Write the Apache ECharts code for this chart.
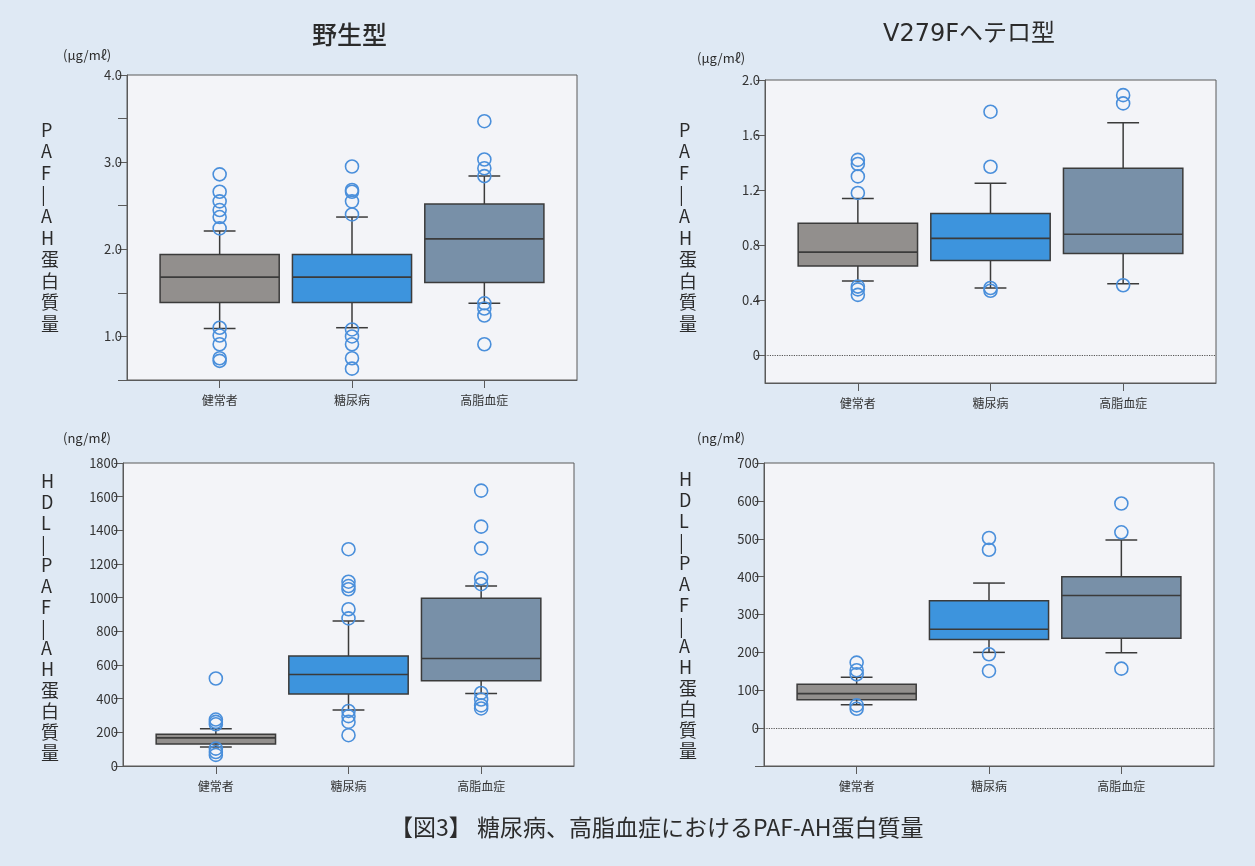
<!DOCTYPE html>
<html lang="ja">
<head>
<meta charset="utf-8">
<title>糖尿病、高脂血症におけるPAF-AH蛋白質量</title>
<script src="https://cdn.jsdelivr.net/npm/echarts@6/dist/echarts.min.js"></script>
<style>
  html, body { margin: 0; padding: 0; background: #dfe9f4; }
  #chart { width: 1255px; height: 866px; }
</style>
</head>
<body>
<div id="chart"></div>
<script>
// Groups on every x axis
const categories = ['健常者', '糖尿病', '高脂血症'];

// Box statistics per group: [lower whisker, Q1, median, Q3, upper whisker]
// 野生型 — PAF-AH 蛋白質量 (μg/mℓ)
const wildProteinBoxes = [
  [1.09, 1.39, 1.68, 1.94, 2.21],
  [1.10, 1.39, 1.68, 1.94, 2.37],
  [1.38, 1.62, 2.12, 2.52, 2.84]
];
const wildProteinOutliers = [
  [2.86, 2.66, 2.55, 2.45, 2.37, 2.24, 1.10, 1.01, 0.91, 0.75, 0.72],
  [2.95, 2.68, 2.66, 2.55, 2.40, 1.08, 1.00, 0.91, 0.75, 0.63],
  [3.47, 3.03, 2.93, 2.84, 1.38, 1.32, 1.24, 0.91]
];

// V279F ヘテロ型 — PAF-AH 蛋白質量 (μg/mℓ)
const heteroProteinBoxes = [
  [0.54, 0.65, 0.75, 0.96, 1.14],
  [0.49, 0.69, 0.85, 1.03, 1.25],
  [0.52, 0.74, 0.88, 1.36, 1.69]
];
const heteroProteinOutliers = [
  [1.42, 1.39, 1.30, 1.18, 0.50, 0.48, 0.44],
  [1.77, 1.37, 0.49, 0.47],
  [1.89, 1.83, 0.51]
];

// 野生型 — HDL-PAF-AH 蛋白質量 (ng/mℓ)
const wildHdlBoxes = [
  [113, 130, 167, 188, 222],
  [333, 427, 544, 654, 861],
  [431, 506, 639, 996, 1069]
];
const wildHdlOutliers = [
  [520, 276, 262, 248, 103, 83, 66],
  [1288, 1095, 1069, 1050, 931, 877, 327, 296, 262, 183],
  [1636, 1422, 1293, 1115, 1080, 434, 395, 360, 342]
];

// V279F ヘテロ型 — HDL-PAF-AH 蛋白質量 (ng/mℓ)
const heteroHdlBoxes = [
  [62, 75, 91, 116, 134],
  [200, 234, 261, 336, 383],
  [199, 237, 350, 400, 497]
];
const heteroHdlOutliers = [
  [173, 153, 142, 60, 51],
  [502, 471, 195, 151],
  [593, 517, 157]
];

// Axis ticks and labels
const wildProteinTicks = [0.5, 1.0, 1.5, 2.0, 2.5, 3.0, 3.5, 4.0];
const wildProteinLabels = [1.0, 2.0, 3.0, 4.0];
const heteroProteinTicks = [0, 0.4, 0.8, 1.2, 1.6, 2.0];
const heteroHdlLabels = [0, 100, 200, 300, 400, 500, 600, 700];

const BOX_FILLS = ['#928f8d', '#3d94dd', '#7890a8'];
const EDGE = '#3b3b3b';
const FRAME = '#5a5a5a';
const OUTLIER = '#4a8fdb';
const BOX_WIDTH = 0.9;
const CAP_WIDTH = 0.24;
const FONT = '"Noto Sans CJK JP", "Noto Sans", sans-serif';
const WIDE_FONT = '"DejaVu Sans", "Noto Sans CJK JP", sans-serif';

function renderBox(params, api) {
  const x = api.value(0);
  const pLo = api.coord([x, api.value(1)]);
  const pQ1 = api.coord([x, api.value(2)]);
  const pMed = api.coord([x, api.value(3)]);
  const pQ3 = api.coord([x, api.value(4)]);
  const pHi = api.coord([x, api.value(5)]);
  const half = api.size([BOX_WIDTH, 0])[0] / 2;
  const cap = api.size([CAP_WIDTH, 0])[0] / 2;
  const cx = pMed[0];
  const line = (x1, y1, x2, y2, w) => ({
    type: 'line',
    shape: { x1, y1, x2, y2 },
    style: { stroke: EDGE, lineWidth: w || 1.5 }
  });
  return {
    type: 'group',
    children: [
      line(cx, pQ3[1], cx, pHi[1]),
      line(cx - cap, pHi[1], cx + cap, pHi[1]),
      line(cx, pQ1[1], cx, pLo[1]),
      line(cx - cap, pLo[1], cx + cap, pLo[1]),
      {
        type: 'rect',
        shape: { x: cx - half, y: pQ3[1], width: half * 2, height: pQ1[1] - pQ3[1] },
        style: { fill: BOX_FILLS[params.dataIndex], stroke: EDGE, lineWidth: 1.5 }
      },
      line(cx - half, pMed[1], cx + half, pMed[1], 1.6)
    ]
  };
}

const grids = [
  { left: 127, top: 75, width: 450, height: 305 },
  { left: 765, top: 80, width: 451, height: 303 },
  { left: 123, top: 463, width: 451, height: 303 },
  { left: 764, top: 463, width: 450, height: 303 }
].map(g => Object.assign({
  show: true, backgroundColor: '#f3f4f8', borderColor: FRAME, borderWidth: 1
}, g));

const xAxes = grids.map((g, i) => ({
  type: 'value', gridIndex: i, min: 0.3, max: 3.7,
  splitLine: { show: false },
  axisLine: { onZero: false, lineStyle: { color: FRAME } },
  axisTick: { customValues: [1, 2, 3], length: 8, lineStyle: { color: FRAME } },
  axisLabel: {
    customValues: [1, 2, 3], margin: 14, color: '#333', fontSize: 12, fontFamily: FONT,
    formatter: v => categories[Math.round(v) - 1]
  }
}));

const yBase = {
  type: 'value',
  splitLine: { show: false },
  axisLine: { show: true, onZero: false, lineStyle: { color: FRAME } },
  axisTick: { length: 9, lineStyle: { color: FRAME } }
};
const labelStyle = { color: '#333', fontSize: 13, fontFamily: FONT, margin: 5 };

const yAxes = [
  Object.assign({}, yBase, {
    gridIndex: 0, min: 0.5, max: 4.0,
    axisTick: Object.assign({}, yBase.axisTick, { customValues: wildProteinTicks }),
    axisLabel: Object.assign({}, labelStyle, { customValues: wildProteinLabels, formatter: v => v.toFixed(1) })
  }),
  Object.assign({}, yBase, {
    gridIndex: 1, min: -0.2, max: 2.0,
    axisTick: Object.assign({}, yBase.axisTick, { customValues: heteroProteinTicks }),
    axisLabel: Object.assign({}, labelStyle, {
      customValues: heteroProteinTicks, formatter: v => (v === 0 ? '0' : v.toFixed(1))
    })
  }),
  Object.assign({}, yBase, {
    gridIndex: 2, min: 0, max: 1800, interval: 200,
    axisLabel: Object.assign({}, labelStyle, { formatter: v => String(v) })
  }),
  Object.assign({}, yBase, {
    gridIndex: 3, min: -100, max: 700, interval: 100,
    axisLabel: Object.assign({}, labelStyle, { customValues: heteroHdlLabels, formatter: v => String(v) })
  })
];

const panels = [
  [wildProteinBoxes, wildProteinOutliers, false],
  [heteroProteinBoxes, heteroProteinOutliers, true],
  [wildHdlBoxes, wildHdlOutliers, false],
  [heteroHdlBoxes, heteroHdlOutliers, true]
];

const series = [];
panels.forEach(([boxes, outliers, zeroLine], i) => {
  const boxSeries = {
    type: 'custom', xAxisIndex: i, yAxisIndex: i, silent: true, z: 2,
    renderItem: renderBox,
    encode: { x: 0, y: [1, 2, 3, 4, 5] },
    data: boxes.map((b, k) => [k + 1].concat(b))
  };
  if (zeroLine) {
    boxSeries.markLine = {
      silent: true, symbol: 'none', label: { show: false },
      lineStyle: { type: 'dotted', color: '#555', width: 1.2 },
      data: [{ yAxis: 0 }]
    };
  }
  series.push(boxSeries);
  const pts = [];
  outliers.forEach((vals, k) => vals.forEach(v => pts.push([k + 1, v])));
  series.push({
    type: 'scatter', xAxisIndex: i, yAxisIndex: i, silent: true, z: 3,
    symbol: 'circle', symbolSize: 13,
    itemStyle: { color: 'rgba(0,0,0,0)', borderColor: OUTLIER, borderWidth: 1.6, opacity: 1 },
    data: pts
  });
});

const txt = (left, top, text, size, extra) => ({
  type: 'text', left, top,
  style: Object.assign({ text, fill: '#2b2b2b', fontSize: size, fontFamily: FONT }, extra || {})
});
const vertical = s => s.split('').join('\n');
const proteinLabel = vertical('PAF|AH') + '\n' + vertical('蛋白質量');
const hdlLabel = vertical('HDL|PAF|AH') + '\n' + vertical('蛋白質量');

const graphic = [
  txt(312, 22, '野生型', 25, { fontWeight: 500 }),
  txt(883, 23, 'V279Fヘテロ型', 24, { fontWeight: 'normal', fontFamily: WIDE_FONT }),
  txt(63, 49, '(μg/mℓ)', 13),
  txt(697, 52, '(μg/mℓ)', 13),
  txt(63, 432, '(ng/mℓ)', 13),
  txt(697, 432, '(ng/mℓ)', 13),
  txt(41, 119, proteinLabel, 18, { lineHeight: 21.6, align: 'center', width: 20 }),
  txt(679, 119, proteinLabel, 18, { lineHeight: 21.6, align: 'center', width: 20 }),
  txt(41, 471, hdlLabel, 18, { lineHeight: 20.9, align: 'center', width: 20 }),
  txt(679, 469, hdlLabel, 18, { lineHeight: 20.9, align: 'center', width: 20 }),
  txt(390, 816, '【図3】 糖尿病、高脂血症におけるPAF-AH蛋白質量', 23)
];

const chart = echarts.init(document.getElementById('chart'), null, { renderer: 'canvas' });
chart.setOption({
  backgroundColor: '#dfe9f4',
  animation: false,
  grid: grids,
  xAxis: xAxes,
  yAxis: yAxes,
  series,
  graphic
});
</script>
</body>
</html>
